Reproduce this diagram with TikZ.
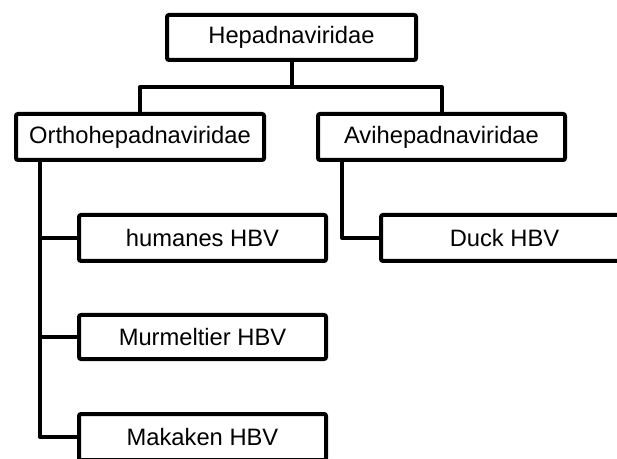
\documentclass[tikz,border=0pt]{standalone}
\usepackage{fontspec}
\setmainfont{Liberation Sans}
\usetikzlibrary{positioning}

\tikzset{
  taxbox/.style={draw, fill=white, line width=3pt, rounded corners=1.5pt,
    minimum width=185.25pt, minimum height=34.5pt, inner sep=0pt,
    font=\fontsize{17.8}{20}\selectfont},
  branch/.style={line width=3pt, line join=round, line cap=round}
}

\begin{document}
\begin{tikzpicture}[x=0.75pt,y=0.75pt,yscale=-1,xscale=1]
\useasboundingbox (0,0) rectangle (617,459);
\clip (0,0) rectangle (617,459);

% Family
\node [taxbox, minimum height=33.75pt, minimum width=186.75pt] (hepa) at (291.5,37.5) {Hepadnaviridae};
% Genera
\node [taxbox, minimum width=186pt] (ortho) at (140,137) {Orthohepadnaviridae};
\node [taxbox] (avi) at (441.5,137) {Avihepadnaviridae};
% Species
\node [taxbox] (human) at (202.5,238) {humanes HBV};
\node [taxbox, minimum height=33pt] (murm) at (202.5,337) {Murmeltier HBV};
\node [taxbox] (maka) at (202.5,437) {Makaken HBV};
\node [taxbox] (duck) at (504.5,238) {Duck HBV};

%Branch points
\coordinate (split) at (291.5,87);
\coordinate (trunkO) at (40,137);
\coordinate (trunkA) at (342,137);

%Straight Lines
\draw [branch] (hepa) -- (split);
\draw [branch] (ortho.north) |- (split) -| (avi.north);
\draw [branch] (ortho.south -| trunkO) |- (human.west);
\draw [branch] (ortho.south -| trunkO) |- (murm.west);
\draw [branch] (ortho.south -| trunkO) |- (maka.west);
\draw [branch] (avi.south -| trunkA) |- (duck.west);

\end{tikzpicture}
\end{document}
